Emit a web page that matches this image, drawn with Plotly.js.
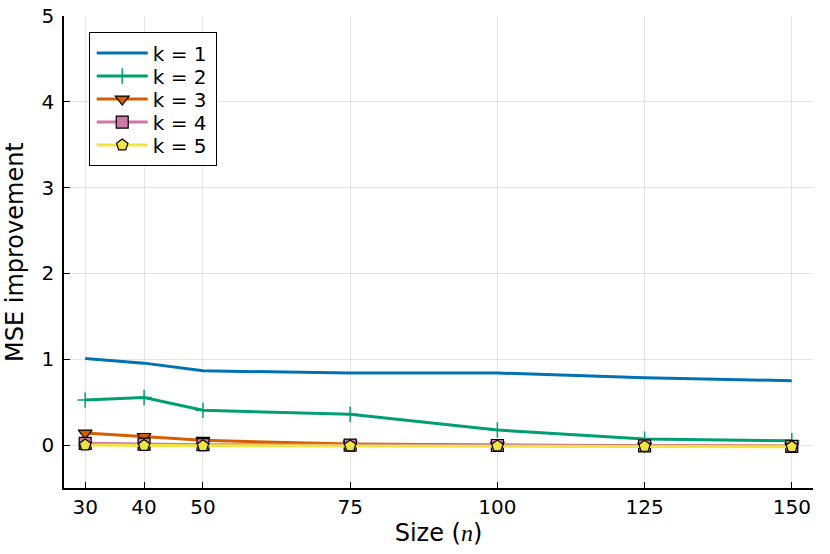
<!DOCTYPE html>
<html><head><meta charset="utf-8">
<script src="https://cdn.plot.ly/plotly-3.0.1.min.js"></script>
<style>body{margin:0;background:#fff}#c{width:830px;height:554px}</style>
</head><body><div id="c"></div>
<script>
const sizes = [30, 40, 50, 75, 100, 125, 150];
const k1 = [1.01, 0.955, 0.865, 0.84, 0.84, 0.785, 0.75];
const k2 = [0.525, 0.555, 0.405, 0.36, 0.175, 0.07, 0.05];
const k3 = [0.14, 0.10, 0.055, 0.012, 0.0, -0.008, -0.012];
const k4 = [0.02, 0.012, 0.005, 0.0, -0.005, -0.01, -0.015];
const k5 = [0.0, -0.005, -0.008, -0.01, -0.012, -0.015, -0.02];
const names = ['k = 1', 'k = 2', 'k = 3', 'k = 4', 'k = 5'];
const series = [k1, k2, k3, k4, k5];
const colors = ['#0072B2', '#009E73', '#D55E00', '#CC79A7', '#F0E442'];
const symbols = [null, 'cross-thin', 'triangle-down', 'square', 'pentagon'];

const traces = series.map((ys, i) => {
  const t = {x: sizes, y: ys, name: names[i], type: 'scatter',
    line: {color: colors[i], width: 3}};
  if (symbols[i] === null) { t.mode = 'lines'; }
  else if (symbols[i] === 'cross-thin') {
    t.mode = 'lines+markers';
    t.marker = {symbol: 'cross-thin', size: 11, color: colors[i], line: {color: colors[i], width: 1.5}};
  } else {
    t.mode = 'lines+markers';
    t.marker = {symbol: symbols[i], size: 12, color: colors[i], line: {color: '#000', width: 1.2}};
  }
  return t;
});

const layout = {
  width: 830, height: 554,
  margin: {l: 64, r: 17, t: 16, b: 66},
  paper_bgcolor: '#fff', plot_bgcolor: '#fff',
  font: {family: 'DejaVu Sans, sans-serif', color: '#000', size: 20},
  showlegend: true,
  legend: {x: 0.033, y: 0.966, xanchor: 'left', yanchor: 'top',
    bordercolor: '#000', borderwidth: 1, bgcolor: '#fff',
    font: {size: 20}, tracegroupgap: 0, itemwidth: 40},
  xaxis: {range: [26.4, 153.6], tickvals: sizes, ticktext: sizes.map(String),
    showgrid: true, gridcolor: 'rgba(0,0,0,0.1)', gridwidth: 1,
    showline: true, linecolor: '#000', linewidth: 1.5,
    ticks: 'inside', ticklen: 6, tickcolor: '#000', zeroline: false,
    tickfont: {size: 20}, automargin: false,
    title: {text: 'Size (<i style="font-family:Liberation Serif">n</i>)', font: {size: 24}, standoff: 1}},
  yaxis: {range: [-0.5, 5], tickvals: [0, 1, 2, 3, 4, 5],
    showgrid: true, gridcolor: 'rgba(0,0,0,0.1)', gridwidth: 1,
    showline: true, linecolor: '#000', linewidth: 1.5,
    ticks: 'inside', ticklen: 6, tickcolor: '#000', zeroline: false,
    tickfont: {size: 20}, automargin: false, ticklabelstandoff: 4},
  annotations: [{text: 'MSE improvement', textangle: -90, showarrow: false,
    xref: 'paper', yref: 'paper', x: 0, y: 0.5, xanchor: 'center', yanchor: 'middle',
    xshift: -49, font: {size: 24}}]
};
Plotly.newPlot('c', traces, layout, {displayModeBar: false}).then(gd => {
  // tighten legend rows to match the reference legend box
  const leg = gd.querySelector('.legend');
  if (!leg) return;
  const sb = leg.querySelector('.scrollbox');
  if (sb) sb.removeAttribute('clip-path');
  const bg = leg.querySelector('rect.bg');
  if (bg) { bg.setAttribute('width', 127); bg.setAttribute('height', 133); }
  leg.querySelectorAll('.traces').forEach((t, i) => {
    t.setAttribute('transform', 'translate(1,' + (21 + 23 * i) + ')');
    t.querySelectorAll('.legendlines path').forEach(p => p.setAttribute('d', 'M7,0h51'));
    t.querySelectorAll('.legendpoints path').forEach(p => p.setAttribute('transform', 'translate(32.5,0)'));
    const tx = t.querySelector('text.legendtext');
    if (tx) tx.setAttribute('x', 63);
    const tog = t.querySelector('rect.legendtoggle');
    if (tog) tog.setAttribute('width', 120);
  });
});
</script></body></html>
